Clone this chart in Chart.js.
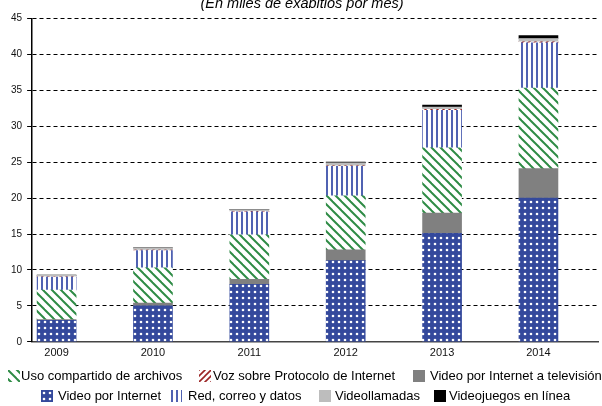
<!DOCTYPE html>
<html>
<head>
<meta charset="utf-8">
<script src="https://cdn.jsdelivr.net/npm/chart.js@4/dist/chart.umd.min.js"></script>
<style>
  html, body { margin: 0; padding: 0; background: #fff; }
  #wrap { position: relative; width: 602px; height: 406px; overflow: hidden; font-family: "Liberation Sans", Arial, sans-serif; }
  #box { position: absolute; left: 0; top: -5px; width: 602px; height: 411px; }
  .sw { position: absolute; }
  .lt { position: absolute; font-size: 13px; line-height: 14px; color: #000; white-space: nowrap; }
</style>
</head>
<body>
<div id="wrap">
  <div id="box"><canvas id="chart"></canvas></div>
  <div id="legend"></div>
</div>
<script>
const years = ["2009", "2010", "2011", "2012", "2013", "2014"];
const videoInternet = [3.0, 5.0, 8.0, 11.3, 15.1, 20.0];
const videoTv = [0.1, 0.4, 0.7, 1.5, 2.8, 4.1];
const usoCompartido = [4.1, 4.9, 6.2, 7.5, 9.1, 11.2];
const redCorreo = [1.8, 2.4, 3.2, 4.1, 5.2, 6.3];
const vozIp = [0.05, 0.05, 0.05, 0.1, 0.15, 0.15];
const videollamadas = [0.2, 0.3, 0.25, 0.4, 0.3, 0.45];
const videojuegos = [0.02, 0.03, 0.05, 0.1, 0.3, 0.4];

const FONT = '"Liberation Sans", Arial, sans-serif';

// pattern tiles
function tile(w, h, draw) {
  const c = document.createElement("canvas");
  c.width = w;
  c.height = h;
  draw(c.getContext("2d"), w, h);
  return c;
}

const dotsTile = tile(6, 6, (g) => {
  g.fillStyle = "#34499c";
  g.fillRect(0, 0, 6, 6);
  g.fillStyle = "#fff";
  g.beginPath();
  g.arc(3, 3, 1.3, 0, Math.PI * 2);
  g.fill();
});

const greenTile = tile(9, 9, (g, s) => {
  g.fillStyle = "#fff";
  g.fillRect(0, 0, s, s);
  g.strokeStyle = "#2e8b45";
  g.lineWidth = 2;
  for (const k of [-s, 0, s]) {
    g.beginPath();
    g.moveTo(-1, -1 + k);
    g.lineTo(s + 1, s + 1 + k);
    g.stroke();
  }
});

const redTile = tile(6, 6, (g, s) => {
  g.fillStyle = "#fff";
  g.fillRect(0, 0, s, s);
  g.strokeStyle = "#9b2525";
  g.lineWidth = 1.6;
  for (const k of [0, s, 2 * s]) {
    g.beginPath();
    g.moveTo(-1, k + 1);
    g.lineTo(s + 1, k - s - 1);
    g.stroke();
  }
});

const linesTile = tile(5, 1, (g) => {
  g.fillStyle = "#fff";
  g.fillRect(0, 0, 5, 1);
  g.fillStyle = "#5062b2";
  g.fillRect(1, 0, 2, 1);
});

const ctx = document.getElementById("chart").getContext("2d");
const pat = (t) => ctx.createPattern(t, "repeat");

const seriesNames = [
  "Video por Internet",
  "Video por Internet a televisión",
  "Uso compartido de archivos",
  "Red, correo y datos",
  "Voz sobre Protocolo de Internet",
  "Videollamadas",
  "Videojuegos en línea",
];
const seriesValues = [videoInternet, videoTv, usoCompartido, redCorreo, vozIp, videollamadas, videojuegos];
const seriesFills = [dotsTile, "#808080", greenTile, linesTile, redTile, "#bdbdbd", "#000"];

const datasets = seriesNames.map((name, i) => ({
  label: name,
  data: seriesValues[i].map((v, j) => ({ x: j, y: v })),
  backgroundColor: typeof seriesFills[i] === "string" ? seriesFills[i] : pat(seriesFills[i]),
  borderWidth: 0,
  barThickness: 39,
}));

new Chart(ctx, {
  type: "bar",
  data: { datasets: datasets },
  options: {
    responsive: true,
    maintainAspectRatio: false,
    animation: false,
    layout: { padding: { left: 6, right: 4, top: 0, bottom: 41 } },
    plugins: {
      legend: { display: false },
      tooltip: { enabled: false },
      title: {
        display: true,
        text: "(En miles de exabitios por mes)",
        color: "#000",
        font: { family: FONT, size: 14.5, style: "italic", weight: "normal" },
        padding: { top: 0, bottom: 6 },
      },
    },
    scales: {
      x: {
        type: "linear",
        stacked: true,
        offset: false,
        min: -0.254,
        max: 5.618,
        afterBuildTicks: (axis) => {
          axis.ticks = years.map((_, i) => ({ value: i }));
        },
        grid: { display: false, drawTicks: false, offset: false },
        border: { color: "#444", width: 1.5 },
        ticks: {
          callback: (v) => years[v],
          color: "#111",
          font: { family: FONT, size: 11 },
          padding: 5,
          maxRotation: 0,
          autoSkip: false,
        },
      },
      y: {
        stacked: true,
        min: 0,
        max: 45,
        ticks: { stepSize: 5, color: "#111", font: { family: FONT, size: 10 }, padding: 5 },
        grid: { color: "#000", lineWidth: 1, tickLength: 5, tickColor: "#000", tickBorderDash: [] },
        border: { color: "#000", width: 1.5, dash: [4, 3] },
      },
    },
  },
});

// legend, laid out like the original (two rows)
const legendLayout = [
  { ds: 2, sx: 8, tx: 21, y: 369 },
  { ds: 4, sx: 199, tx: 213, y: 369 },
  { ds: 1, sx: 413, tx: 430, y: 369 },
  { ds: 0, sx: 41, tx: 58, y: 389 },
  { ds: 3, sx: 170, tx: 188, y: 389 },
  { ds: 5, sx: 319, tx: 335, y: 389 },
  { ds: 6, sx: 434, tx: 449, y: 389 },
];
const legendEl = document.getElementById("legend");
for (const item of legendLayout) {
  const sw = document.createElement("canvas");
  sw.width = 12;
  sw.height = 12;
  sw.className = "sw";
  sw.style.left = item.sx + "px";
  sw.style.top = item.y + 1 + "px";
  const g = sw.getContext("2d");
  const f = seriesFills[item.ds];
  g.fillStyle = typeof f === "string" ? f : g.createPattern(f, "repeat");
  g.fillRect(0, 0, 12, 12);
  legendEl.appendChild(sw);
  const t = document.createElement("div");
  t.className = "lt";
  t.style.left = item.tx + "px";
  t.style.top = item.y + "px";
  t.textContent = seriesNames[item.ds];
  legendEl.appendChild(t);
}
</script>
</body>
</html>
